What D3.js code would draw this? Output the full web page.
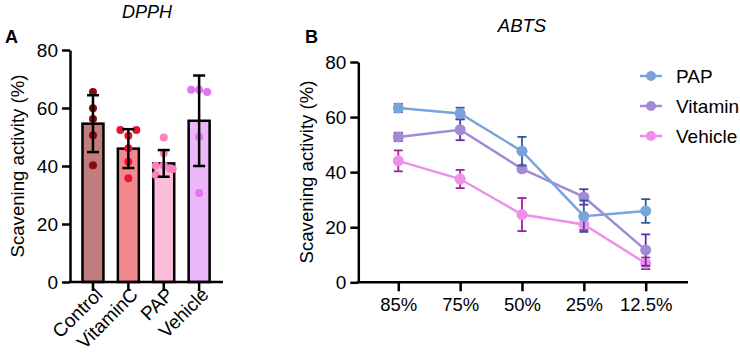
<!DOCTYPE html>
<html>
<head>
<meta charset="utf-8">
<script src="https://cdn.jsdelivr.net/npm/d3@7"></script>
<style>
  body { margin: 0; background: #fff; }
  svg { display: block; font-family: "Liberation Sans", Arial, sans-serif; }
  .axis path, .axis line { stroke: #000; }
  .axis text { fill: #000; }
</style>
</head>
<body>
<svg id="chart" width="740" height="364"></svg>
<script>
// ---- panel A: DPPH ----
var groups = ["Control", "VitaminC", "PAP", "Vehicle"];
var groupMeans = [54.6, 46.0, 40.9, 55.6];
var groupSD = [9.8, 6.7, 4.6, 15.6];
var groupPoints = [
  [65.5, 59.9, 56.2, 50.6, 40.3],
  [52.4, 52.4, 50.4, 46.1, 41.5, 35.8],
  [49.8, 44.4, 40.1, 40.3, 39.1, 39.0, 36.9],
  [66.3, 66.3, 65.5, 50.0, 30.7]
];
var pointJitter = [
  [0, 0, 0, 0, 0],
  [-8, 8, 0, 0, 0, 0],
  [0, 0, -8, 0, 6, 9, -8],
  [-8, 0, 8, 0, 0]
];
var barFill = ["#c17d7d", "#f3898f", "#fbbdd9", "#ebb6fa"];
var dotFill = ["#8b0a0a", "#e8152e", "#fb82bf", "#e174f5"];

// ---- panel B: ABTS ----
var dilutions = ["85%", "75%", "50%", "25%", "12.5%"];
var seriesNames = ["PAP", "Vitamin", "Vehicle"];
var papMean = [63.3, 61.3, 47.6, 24.0, 25.9];
var papSD = [1.5, 2.1, 5.2, 5.7, 4.3];
var vitMean = [52.8, 55.4, 41.2, 31.0, 11.7];
var vitSD = [1.5, 3.8, 1.0, 2.8, 5.7];
var vehMean = [44.1, 37.5, 24.6, 21.0, 6.9];
var vehSD = [3.8, 3.3, 6.0, 2.0, 2.1];
var lineColor = ["#79a3dc", "#a38ad7", "#ee8feb"];
var errColor = ["#2f5a9e", "#5e2f9e", "#a3209a"];

var yTicks = [0, 20, 40, 60, 80];
var FONT = "Liberation Sans, Arial";

var svg = d3.select("#chart");

// ================= Panel A =================
var yA = d3.scaleLinear().domain([0, 80]).range([282, 50]);
var xA = d3.scaleBand().domain(groups).range([75.4, 216.7]).paddingInner(0.407).paddingOuter(0.2);
var gA = svg.append("g");

// bars
gA.selectAll("rect.bar").data(groups).enter().append("rect")
  .attr("x", function(d) { return xA(d); })
  .attr("width", xA.bandwidth())
  .attr("y", function(d, i) { return yA(groupMeans[i]); })
  .attr("height", function(d, i) { return yA(0) - yA(groupMeans[i]); })
  .attr("fill", function(d, i) { return barFill[i]; })
  .attr("stroke", "#000")
  .attr("stroke-width", 2.5);

// dots
groups.forEach(function(g, i) {
  var cx = xA(g) + xA.bandwidth() / 2;
  gA.selectAll(".dot" + i).data(groupPoints[i]).enter().append("circle")
    .attr("cx", function(d, j) { return cx + pointJitter[i][j]; })
    .attr("cy", function(d) { return yA(d); })
    .attr("r", 4)
    .attr("fill", dotFill[i]);
});

// error bars (mean +/- SD)
groups.forEach(function(g, i) {
  var cx = xA(g) + xA.bandwidth() / 2;
  var top = yA(groupMeans[i] + groupSD[i]), bot = yA(groupMeans[i] - groupSD[i]);
  var eb = gA.append("g").attr("stroke", "#000").attr("stroke-width", 2.5);
  eb.append("line").attr("x1", cx).attr("x2", cx).attr("y1", top).attr("y2", bot);
  eb.append("line").attr("x1", cx - 6).attr("x2", cx + 6).attr("y1", top).attr("y2", top);
  eb.append("line").attr("x1", cx - 6).attr("x2", cx + 6).attr("y1", bot).attr("y2", bot);
});

// axes
var yAxisA = gA.append("g").attr("class", "axis")
  .attr("transform", "translate(70,0)")
  .call(d3.axisLeft(yA).tickValues(yTicks).tickSize(8).tickSizeOuter(0));
yAxisA.selectAll("path, line").attr("stroke-width", 2.5);
yAxisA.selectAll("text").attr("font-size", 19).attr("font-family", FONT).attr("dx", "-1");

gA.append("line").attr("x1", 68.75).attr("x2", 223).attr("y1", 282).attr("y2", 282)
  .attr("stroke", "#000").attr("stroke-width", 2.5);
var xAxisA = gA.append("g").attr("class", "axis")
  .attr("transform", "translate(0,282)")
  .call(d3.axisBottom(xA).tickSize(9).tickSizeOuter(0));
xAxisA.select(".domain").remove();
xAxisA.selectAll("line").attr("stroke-width", 2.5);
xAxisA.selectAll("text")
  .attr("font-size", 19).attr("font-family", FONT)
  .attr("text-anchor", "end")
  .attr("dy", "0.35em")
  .attr("transform", "translate(6,9) rotate(-45)")
  .attr("y", 0).attr("x", 0);

gA.append("text").attr("transform", "translate(24,166) rotate(-90)")
  .attr("text-anchor", "middle").attr("font-size", 18.6).attr("font-family", FONT)
  .text("Scavening activity (%)");
gA.append("text").attr("x", 147).attr("y", 18).attr("text-anchor", "middle")
  .attr("font-size", 18).attr("font-family", FONT).attr("font-style", "italic").text("DPPH");
gA.append("text").attr("x", 5).attr("y", 43).attr("font-size", 18).attr("font-family", FONT)
  .attr("font-weight", "bold").text("A");

// ================= Panel B =================
var yB = d3.scaleLinear().domain([0, 80]).range([282.3, 62]);
var xB = d3.scalePoint().domain(dilutions).range([398.3, 645.7]);
var gB = svg.append("g");

var series = [
  { name: seriesNames[0], mean: papMean, sd: papSD },
  { name: seriesNames[1], mean: vitMean, sd: vitSD },
  { name: seriesNames[2], mean: vehMean, sd: vehSD }
];

var line = d3.line()
  .x(function(d, i) { return xB(dilutions[i]); })
  .y(function(d) { return yB(d); });

// draw back to front: vehicle, vitamin, PAP
[2, 1, 0].forEach(function(k) {
  var s = series[k];
  var g = gB.append("g");
  // error bars
  s.mean.forEach(function(m, i) {
    var cx = xB(dilutions[i]);
    var top = yB(m + s.sd[i]), bot = yB(m - s.sd[i]);
    var eb = g.append("g").attr("stroke", errColor[k]).attr("stroke-width", 1.8);
    eb.append("line").attr("x1", cx).attr("x2", cx).attr("y1", top).attr("y2", bot);
    eb.append("line").attr("x1", cx - 4.5).attr("x2", cx + 4.5).attr("y1", top).attr("y2", top);
    eb.append("line").attr("x1", cx - 4.5).attr("x2", cx + 4.5).attr("y1", bot).attr("y2", bot);
  });
  g.append("path").datum(s.mean)
    .attr("d", line)
    .attr("fill", "none")
    .attr("stroke", lineColor[k])
    .attr("stroke-width", 2.5);
  g.selectAll("circle").data(s.mean).enter().append("circle")
    .attr("cx", function(d, i) { return xB(dilutions[i]); })
    .attr("cy", function(d) { return yB(d); })
    .attr("r", 5.5)
    .attr("fill", lineColor[k]);
});

var yAxisB = gB.append("g").attr("class", "axis")
  .attr("transform", "translate(358.3,0)")
  .call(d3.axisLeft(yB).tickValues(yTicks).tickSize(8).tickSizeOuter(0));
yAxisB.selectAll("path, line").attr("stroke-width", 2.5);
yAxisB.selectAll("text").attr("font-size", 19).attr("font-family", FONT).attr("dx", "-1");

gB.append("line").attr("x1", 357).attr("x2", 688).attr("y1", 282.3).attr("y2", 282.3)
  .attr("stroke", "#000").attr("stroke-width", 2.5);
var xAxisB = gB.append("g").attr("class", "axis")
  .attr("transform", "translate(0,282.3)")
  .call(d3.axisBottom(xB).tickSize(9).tickSizeOuter(0));
xAxisB.select(".domain").remove();
xAxisB.selectAll("line").attr("stroke-width", 2.5);
xAxisB.selectAll("text").attr("font-size", 18.5).attr("font-family", FONT)
  .attr("dy", "0.9em");

gB.append("text").attr("transform", "translate(313,172) rotate(-90)")
  .attr("text-anchor", "middle").attr("font-size", 18.6).attr("font-family", FONT)
  .text("Scavening activity (%)");
gB.append("text").attr("x", 522).attr("y", 32).attr("text-anchor", "middle")
  .attr("font-size", 18.5).attr("font-family", FONT).attr("font-style", "italic").text("ABTS");
gB.append("text").attr("x", 305).attr("y", 43).attr("font-size", 18).attr("font-family", FONT)
  .attr("font-weight", "bold").text("B");

// legend
var legend = gB.selectAll(".legend").data(series).enter().append("g")
  .attr("transform", function(d, i) { return "translate(640," + (76 + i * 30) + ")"; });
legend.append("line").attr("x1", 0).attr("x2", 22).attr("y1", 0).attr("y2", 0)
  .attr("stroke", function(d, i) { return lineColor[i]; }).attr("stroke-width", 2.5);
legend.append("circle").attr("cx", 11).attr("cy", 0).attr("r", 5)
  .attr("fill", function(d, i) { return lineColor[i]; });
legend.append("text").attr("x", 36).attr("y", 0).attr("dy", "0.35em")
  .attr("font-size", 19).attr("font-family", FONT).text(function(d) { return d.name; });
</script>
</body>
</html>
